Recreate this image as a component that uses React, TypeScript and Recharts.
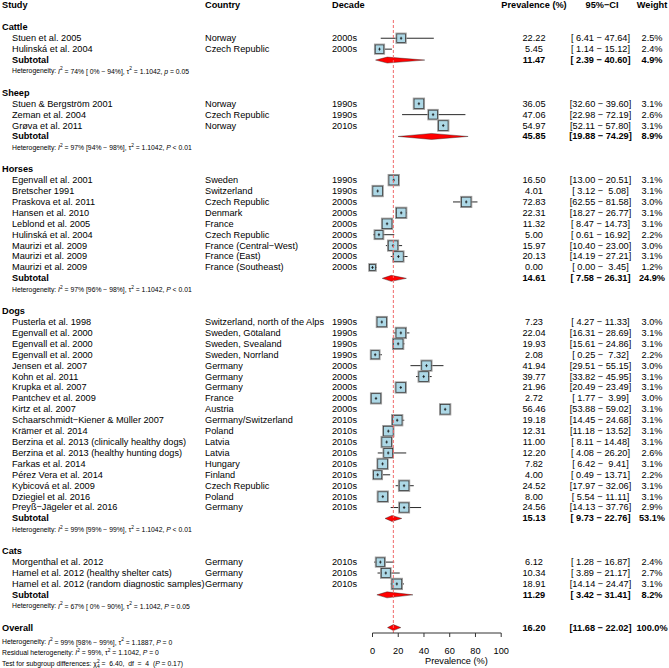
import React from "react";
import { ComposedChart, Bar, XAxis, YAxis, ReferenceLine } from "recharts";

const FONT = '"Liberation Sans", Arial, Helvetica, sans-serif';

const groups = ["Cattle", "Sheep", "Horses", "Dogs", "Cats"];
const groupSizes = [2, 3, 9, 18, 3];

const studies = [
  "Stuen et al. 2005",
  "Hulinská et al. 2004",
  "Stuen & Bergström 2001",
  "Zeman et al. 2004",
  "Grøva et al. 2011",
  "Egenvall et al. 2001",
  "Bretscher 1991",
  "Praskova et al. 2011",
  "Hansen et al. 2010",
  "Leblond et al. 2005",
  "Hulinská et al. 2004",
  "Maurizi et al. 2009",
  "Maurizi et al. 2009",
  "Maurizi et al. 2009",
  "Pusterla et al. 1998",
  "Egenvall et al. 2000",
  "Egenvall et al. 2000",
  "Egenvall et al. 2000",
  "Jensen et al. 2007",
  "Kohn et al. 2011",
  "Krupka et al. 2007",
  "Pantchev et al. 2009",
  "Kirtz et al. 2007",
  "Schaarschmidt−Kiener & Müller 2007",
  "Krämer et al. 2014",
  "Berzina et al. 2013 (clinically healthy dogs)",
  "Berzina et al. 2013 (healthy hunting dogs)",
  "Farkas et al. 2014",
  "Pérez Vera et al. 2014",
  "Kybicová et al. 2009",
  "Dziegiel et al. 2016",
  "Preyß−Jägeler et al. 2016",
  "Morgenthal et al. 2012",
  "Hamel et al. 2012 (healthy shelter cats)",
  "Hamel et al. 2012 (random diagnostic samples)",
];

const countries = [
  "Norway",
  "Czech Republic",
  "Norway",
  "Czech Republic",
  "Norway",
  "Sweden",
  "Switzerland",
  "Czech Republic",
  "Denmark",
  "France",
  "Czech Republic",
  "France (Central−West)",
  "France (East)",
  "France (Southeast)",
  "Switzerland, north of the Alps",
  "Sweden, Götaland",
  "Sweden, Svealand",
  "Sweden, Norrland",
  "Germany",
  "Germany",
  "Germany",
  "France",
  "Austria",
  "Germany/Switzerland",
  "Poland",
  "Latvia",
  "Latvia",
  "Hungary",
  "Finland",
  "Czech Republic",
  "Poland",
  "Germany",
  "Germany",
  "Germany",
  "Germany",
];

const decades = [
  "2000s", "2000s",
  "1990s", "1990s", "2010s",
  "1990s", "1990s", "2000s", "2000s", "2000s", "2000s", "2000s", "2000s", "2000s",
  "1990s", "1990s", "1990s", "1990s", "2000s", "2000s", "2000s", "2000s", "2000s",
  "2010s", "2010s", "2010s", "2010s", "2010s", "2010s", "2010s", "2010s", "2010s",
  "2010s", "2010s", "2010s",
];

const prevalence = [
  22.22, 5.45,
  36.05, 47.06, 54.97,
  16.5, 4.01, 72.83, 22.31, 11.32, 5.0, 15.97, 20.13, 0.0,
  7.23, 22.04, 19.93, 2.08, 41.94, 39.77, 21.96, 2.72, 56.46,
  19.18, 12.31, 11.0, 12.2, 7.82, 4.0, 24.52, 8.0, 24.56,
  6.12, 10.34, 18.91,
];

const ciLower = [
  6.41, 1.14,
  32.6, 22.98, 52.11,
  13.0, 3.12, 62.55, 18.27, 8.47, 0.61, 10.4, 14.19, 0.0,
  4.27, 16.31, 15.61, 0.25, 29.51, 33.82, 20.49, 1.77, 53.88,
  14.45, 11.18, 8.11, 4.08, 6.42, 0.49, 17.97, 5.54, 14.13,
  1.28, 3.89, 14.14,
];

const ciUpper = [
  47.64, 15.12,
  39.6, 72.19, 57.8,
  20.51, 5.08, 81.58, 26.77, 14.73, 16.92, 23.0, 27.21, 3.45,
  11.33, 28.69, 24.86, 7.32, 55.15, 45.95, 23.49, 3.99, 59.02,
  24.68, 13.52, 14.48, 26.2, 9.41, 13.71, 32.06, 11.11, 37.76,
  16.87, 21.17, 24.47,
];

const weights = [
  2.5, 2.4,
  3.1, 2.6, 3.1,
  3.1, 3.1, 3.0, 3.1, 3.1, 2.2, 3.0, 3.1, 1.2,
  3.0, 3.1, 3.1, 2.2, 3.0, 3.1, 3.1, 3.0, 3.1,
  3.1, 3.1, 3.1, 2.6, 3.1, 2.2, 3.1, 3.1, 2.9,
  2.4, 2.7, 3.1,
];

const subPrevalence = [11.47, 45.85, 14.61, 15.13, 11.29];
const subLower = [2.39, 19.88, 7.58, 9.73, 3.42];
const subUpper = [40.6, 74.29, 26.31, 22.76, 31.41];
const subWeights = [4.9, 8.9, 24.9, 53.1, 8.2];

const hetI2 = ["74% [ 0% − 94%]", "97% [94% − 98%]", "97% [96% − 98%]", "99% [99% − 99%]", "67% [ 0% − 90%]"];
const hetTau2 = ["1.1042", "1.1042", "1.1042", "1.1042", "1.1042"];
const hetPLetter = ["p", "P", "P", "P", "P"];
const hetPValue = ["= 0.05", "< 0.01", "< 0.01", "< 0.01", "= 0.05"];

const overallPrevalence = 16.2;
const overallLower = 11.68;
const overallUpper = 22.02;
const overallWeight = 100.0;
const overallI2 = "99% [98% − 99%]";
const overallTau2 = "1.1887";
const overallP = "= 0";
const residualI2 = "99%";
const residualTau2 = "1.1042";
const residualP = "= 0";
const subgroupChi2 = "6.40";
const subgroupDf = "4";
const subgroupP = "0.17";

const xTicks = [0, 20, 40, 60, 80, 100];

// column positions
const X_GROUP = 2;
const X_STUDY = 12;
const X_COUNTRY = 205;
const X_DECADE = 332;
const X_PREV = 534;
const X_CI = 600.5;
const X_WEIGHT = 652;
const FS = 9.2;
const FS_HET = 6.8;
const SUP = 2.7;

type Row = {
  key: string;
  kind: "header" | "blank" | "group" | "study" | "subtotal" | "het" | "overall";
  g?: number;
  i?: number;
  range: [number, number] | null;
  est?: number;
  w?: number;
};

const rows: Row[] = [];
const push = (r: Omit<Row, "key">) => rows.push({ ...r, key: "r" + rows.length });
push({ kind: "header", range: null });
push({ kind: "blank", range: null });
let idx = 0;
groups.forEach((_, g) => {
  push({ kind: "group", g, range: null });
  for (let k = 0; k < groupSizes[g]; k++) {
    push({ kind: "study", g, i: idx, range: [ciLower[idx], ciUpper[idx]], est: prevalence[idx], w: weights[idx] });
    idx++;
  }
  push({ kind: "subtotal", g, range: [subLower[g], subUpper[g]], est: subPrevalence[g], w: subWeights[g] });
  push({ kind: "het", g, range: null });
  push({ kind: "blank", range: null });
});
push({ kind: "overall", range: [overallLower, overallUpper], est: overallPrevalence, w: overallWeight });

const rowByKey: Record<string, Row> = {};
rows.forEach((r) => (rowByKey[r.key] = r));

const pad = (v: number) => v.toFixed(2).padStart(5, " ");
const fmtCI = (lo: number, hi: number) => `[${pad(lo)} − ${pad(hi)}]`;

const T = ({ x, y, children, bold, anchor, size }: any) => (
  <text
    x={x}
    y={y}
    fontSize={size ?? FS}
    fontWeight={bold ? "bold" : "normal"}
    textAnchor={anchor ?? "start"}
    dominantBaseline="central"
    fontFamily={FONT}
    fill="#000"
    style={{ whiteSpace: "pre" }}
  >
    {children}
  </text>
);

const HetLine = ({ x, y, label, i2, tau2, pLetter, pValue }: any) => (
  <T x={x} y={y} size={FS_HET}>
    {label}
    <tspan fontStyle="italic">I</tspan>
    <tspan dy={-SUP} fontSize={FS_HET * 0.72}>2</tspan>
    <tspan dy={SUP}>{` = ${i2}, τ`}</tspan>
    <tspan dy={-SUP} fontSize={FS_HET * 0.72}>2</tspan>
    <tspan dy={SUP}>{` = ${tau2}, `}</tspan>
    <tspan fontStyle="italic">{pLetter}</tspan>
    <tspan>{` ${pValue}`}</tspan>
  </T>
);

const RowTick = (props: any) => {
  const { y, payload } = props;
  const row = rowByKey[payload?.value];
  if (!row) return null;
  if (row.kind === "header") {
    return (
      <g>
        <T x={X_GROUP} y={y} bold>Study</T>
        <T x={X_COUNTRY} y={y} bold>Country</T>
        <T x={X_DECADE} y={y} bold>Decade</T>
        <T x={X_PREV} y={y} bold anchor="middle">Prevalence (%)</T>
        <T x={X_CI + 1.5} y={y} bold anchor="middle">95%−CI</T>
        <T x={X_WEIGHT} y={y} bold anchor="middle">Weight</T>
      </g>
    );
  }
  if (row.kind === "group") {
    return <T x={X_GROUP} y={y} bold>{groups[row.g!]}</T>;
  }
  if (row.kind === "study") {
    const i = row.i!;
    return (
      <g>
        <T x={X_STUDY} y={y}>{studies[i]}</T>
        <T x={X_COUNTRY} y={y}>{countries[i]}</T>
        <T x={X_DECADE} y={y}>{decades[i]}</T>
        <T x={X_PREV} y={y} anchor="middle">{prevalence[i].toFixed(2)}</T>
        <T x={X_CI} y={y} anchor="middle">{fmtCI(ciLower[i], ciUpper[i])}</T>
        <T x={X_WEIGHT} y={y} anchor="middle">{weights[i].toFixed(1) + "%"}</T>
      </g>
    );
  }
  if (row.kind === "subtotal" || row.kind === "overall") {
    const isAll = row.kind === "overall";
    return (
      <g>
        <T x={isAll ? X_GROUP : X_STUDY} y={y} bold>{isAll ? "Overall" : "Subtotal"}</T>
        <T x={X_PREV} y={y} bold anchor="middle">{row.est!.toFixed(2)}</T>
        <T x={X_CI} y={y} bold anchor="middle">{fmtCI(row.range![0], row.range![1])}</T>
        <T x={X_WEIGHT} y={y} bold anchor="middle">{row.w!.toFixed(1) + "%"}</T>
      </g>
    );
  }
  if (row.kind === "het") {
    const g = row.g!;
    return (
      <HetLine
        x={X_STUDY}
        y={y}
        label="Heterogeneity: "
        i2={hetI2[g]}
        tau2={hetTau2[g]}
        pLetter={hetPLetter[g]}
        pValue={hetPValue[g]}
      />
    );
  }
  return null;
};

const MarkShape = (props: any) => {
  const { x, y, width, height, payload } = props;
  if (!payload || !payload.range) return null;
  const cy = y + height / 2;
  const [lo, hi] = payload.range;
  const ex = x + (width * (payload.est - lo)) / (hi - lo);
  if (payload.kind === "study") {
    const s = 5.5 * Math.sqrt(payload.w);
    return (
      <g>
        <line x1={x} x2={x + width} y1={cy} y2={cy} stroke="#111" strokeWidth={0.9} />
        <rect x={ex - s / 2 - 0.8} y={cy - s / 2 - 0.8} width={s + 1.6} height={s + 1.6} fill="none" stroke="#a0a0a0" strokeWidth={1} />
        <rect x={ex - s / 2} y={cy - s / 2} width={s} height={s} fill="#add8e6" stroke="#333" strokeWidth={0.8} />
        <line x1={ex - 1.2} x2={ex + 1.2} y1={cy} y2={cy} stroke="#111" strokeWidth={0.8} />
        <line x1={ex} x2={ex} y1={cy - 1.5} y2={cy + 1.5} stroke="#111" strokeWidth={0.8} />
      </g>
    );
  }
  const h = 3;
  return (
    <polygon
      points={`${x},${cy} ${ex},${cy - h} ${x + width},${cy} ${ex},${cy + h}`}
      fill="#ff0000"
      stroke="#222"
      strokeWidth={0.4}
    />
  );
};

const DashedRef = (p: any) => (
  <line
    x1={p.x1}
    x2={p.x2}
    y1={Math.min(p.y1, p.y2) + 20}
    y2={Math.max(p.y1, p.y2)}
    stroke="#f06a6a"
    strokeWidth={1}
    strokeDasharray="3 2"
  />
);

const BottomNotes = (props: any) => {
  const y0 = props?.viewBox?.y ?? 633;
  return (
    <g>
      <T x={425} y={y0 + 28}>Prevalence (%)</T>
      <HetLine
        x={X_GROUP}
        y={y0 + 8.7}
        label="Heterogeneity: "
        i2={overallI2}
        tau2={overallTau2}
        pLetter="P"
        pValue={overallP}
      />
      <HetLine
        x={X_GROUP}
        y={y0 + 19.2}
        label="Residual heterogeneity: "
        i2={residualI2}
        tau2={residualTau2}
        pLetter="P"
        pValue={residualP}
      />
      <T x={X_GROUP} y={y0 + 30.3} size={FS_HET}>
        {"Test for subgroup differences: χ"}
        <tspan dy={-SUP} fontSize={FS_HET * 0.72}>2</tspan>
        <tspan dx={-2.7} dy={SUP + 2.2} fontSize={FS_HET * 0.72}>{subgroupDf}</tspan>
        <tspan dy={-2.2}>{` =  ${subgroupChi2},  df  =  ${subgroupDf}  (`}</tspan>
        <tspan fontStyle="italic">P</tspan>
        <tspan>{` = ${subgroupP})`}</tspan>
      </T>
    </g>
  );
};

export default function App() {
  return (
    <div style={{ position: "absolute", left: 0, top: 0, background: "#fff" }}>
      <ComposedChart
        layout="vertical"
        width={669}
        height={668}
        data={rows}
        margin={{ top: 0, right: 167.8, bottom: 0, left: 0 }}
        barCategoryGap={0}
      >
        <XAxis
          type="number"
          domain={[0, 100]}
          ticks={xTicks}
          interval={0}
          height={35}
          tickSize={4}
          tickMargin={10}
          stroke="#333"
          tick={{ fontSize: FS, fill: "#000", fontFamily: FONT }}
          label={<BottomNotes />}
        />
        <YAxis
          type="category"
          dataKey="key"
          width={372.5}
          axisLine={false}
          tickLine={false}
          interval={0}
          tick={(p: any) => <RowTick {...p} />}
        />
        <ReferenceLine x={overallPrevalence} shape={DashedRef} />
        <Bar dataKey="range" isAnimationActive={false} shape={MarkShape} />
      </ComposedChart>
    </div>
  );
}
